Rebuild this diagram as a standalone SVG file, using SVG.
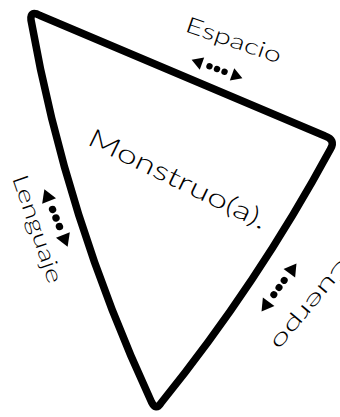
<svg xmlns="http://www.w3.org/2000/svg" width="340" height="417" viewBox="0 0 340 417">
<style>
.edge{fill:none;stroke:#000;stroke-width:7.5;stroke-linejoin:round;stroke-linecap:round}
.lbl{font-family:"Lato","Open Sans","DejaVu Sans",sans-serif;font-weight:300;fill:#000}
</style>
<defs>
<g id="dbl">
<path d="M-27,0 L-16,-6.5 L-16,6.5 Z"/>
<circle cx="-8" cy="0" r="3.2"/>
<circle cx="0" cy="0" r="3.2"/>
<circle cx="8" cy="0" r="3.2"/>
<path d="M27,0 L16,-6.5 L16,6.5 Z"/>
</g>
</defs>
<rect width="340" height="417" fill="#fff"/>
<g id="triangle">
<path class="edge" d="M40,15.5 L325,136 Q336,140 330.5,149 Q258,283 161,403 Q156,411 151.5,402 Q66,218 31,20 Q30,10 40,15.5 Z"/>
</g>
<g id="connectors">
<use href="#dbl" transform="translate(217,69) rotate(20)"/>
<use href="#dbl" transform="translate(56,218) rotate(68) scale(1.15)"/>
<use href="#dbl" transform="translate(279,287.5) rotate(126) scale(1.1)"/>
</g>
<g id="monstruo">
<text class="lbl" font-size="26" transform="translate(86,144) rotate(26)" textLength="196" lengthAdjust="spacingAndGlyphs">Monstruo(a).</text>
</g>
<g id="espacio">
<text class="lbl" font-size="22" transform="translate(184,31) rotate(19)" textLength="100" lengthAdjust="spacingAndGlyphs">Espacio</text>
</g>
<g id="lenguaje">
<text class="lbl" font-size="22" transform="translate(12,178) rotate(71)" textLength="113" lengthAdjust="spacingAndGlyphs">Lenguaje</text>
</g>
<g id="cuerpo">
<text class="lbl" font-size="22" transform="translate(344,255) rotate(130)" textLength="115" lengthAdjust="spacingAndGlyphs">Cuerpo</text>
</g>
</svg>
